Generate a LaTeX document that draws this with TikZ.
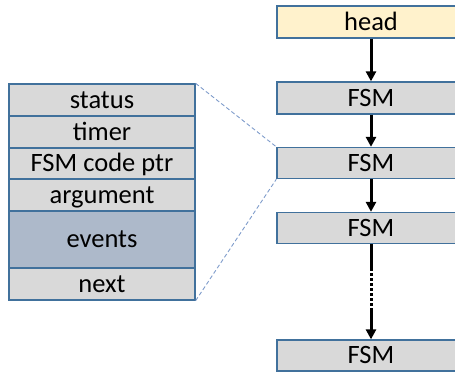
\documentclass[tikz,border=0pt]{standalone}
\usepackage{fontspec}
\setmainfont{Carlito}
\usetikzlibrary{arrows.meta}
\definecolor{cellfill}{HTML}{D9D9D9}
\definecolor{cellline}{HTML}{41719C}
\definecolor{eventfill}{HTML}{ADB9CA}
\definecolor{headfill}{HTML}{FFF2CC}
\definecolor{zoomline}{HTML}{7F9CCB}
\newcommand\cellsize{\fontsize{26.5}{26.5}\selectfont}
\tikzset{
  cellbase/.style={draw=cellline, line width=1.3pt, fill=cellfill, inner sep=0pt,
    font=\cellsize, text height=16.4pt, text depth=0pt},
  cell/.style={cellbase, minimum width=186pt},
  listcell/.style={cellbase, minimum width=188pt},
  link/.style={line width=3pt, -{Triangle[length=10pt,width=10pt]}},
  zoomed/.style={draw=zoomline, line width=0.9pt, dash pattern=on 4pt off 2.5pt}
}
\begin{document}
\begin{tikzpicture}[x=1pt,y=-1pt]
\useasboundingbox (0,0) rectangle (455,372);
\clip (0,0) rectangle (455,372);

% linked list of FSMs
\node[listcell, minimum height=32pt, fill=headfill] (head) at (371,22) {head};
\node[listcell, minimum height=32pt] (f1) at (371,98) {FSM};
\node[listcell, minimum height=31pt] (f2) at (371,163) {FSM};
\node[listcell, minimum height=31pt] (f3) at (371,228) {FSM};
\node[listcell, minimum height=31pt] (f4) at (371,355.5) {FSM};

\draw[link] (head) -- (f1);
\draw[link] (f1) -- (f2);
\draw[link] (f2) -- (f3);
\draw[line width=3pt] (f3.south) -- ++(0,24) coordinate (d1);
\draw[line width=3pt, dash pattern=on 3pt off 2pt] (d1) -- ++(0,40) coordinate (d2);
\draw[link] (d2) -- (f4);

% expanded FSM record
\node[cell, minimum height=32pt] (status) at (102,100) {status};
\node[cell, minimum height=32pt] (timer) at (102,132) {timer};
\node[cell, minimum height=31pt] (code) at (102,163.5) {FSM code ptr};
\node[cell, minimum height=32pt] (arg) at (102,195) {argument};
\node[cell, minimum height=57pt, fill=eventfill] (events) at (102,239.5) {events};
\node[cell, minimum height=32pt] (next) at (102,284) {next};

\draw[zoomed] (status.north east) -- (f2.north west);
\draw[zoomed] (next.south east) -- (f2.south west);
\end{tikzpicture}
\end{document}
